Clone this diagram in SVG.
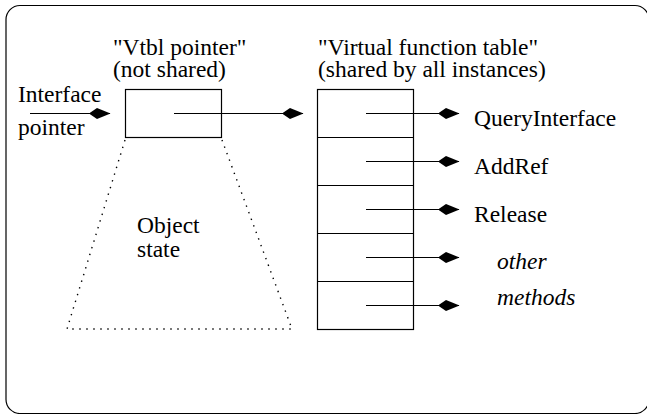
<svg xmlns="http://www.w3.org/2000/svg" width="647" height="414" viewBox="0 0 647 414">
<style>
  .t { font-family: "Times New Roman", "Liberation Serif", Times, "DejaVu Serif", serif; font-size: 23.5px; fill: #000; }
  .it { font-style: italic; }
  .box { fill: #fff; stroke: #000; stroke-width: 1.2; }
  .line { fill: none; stroke: #000; stroke-width: 1.2; }
  .dot { fill: none; stroke: #000; stroke-width: 1.4; stroke-dasharray: 1.4 5.6; }
  .arrow { fill: none; stroke: #000; stroke-width: 1.2; marker-end: url(#head); }
</style>
<defs>
  <marker id="head" markerUnits="userSpaceOnUse" viewBox="-22 -7 23 14" refX="0" refY="0" markerWidth="23" markerHeight="14" orient="auto">
    <path d="M0.5,0 L-13,-5.5 L-20,-0.8 L-20,0.8 L-13,5.5 Z" fill="#000"/>
  </marker>
</defs>
<rect width="647" height="414" fill="#fff"/>
<g id="frame">
  <rect x="6" y="5.5" width="643" height="408" rx="14" ry="14" class="line"/>
</g>
<g id="interface-pointer" class="t">
  <text x="18" y="102">Interface</text>
  <text x="18" y="135">pointer</text>
</g>
<g id="vtbl-pointer">
  <g class="t">
    <text x="113" y="55">"Vtbl pointer"</text>
    <text x="113" y="77">(not shared)</text>
  </g>
  <rect x="125.5" y="89.5" width="96" height="48" class="box"/>
</g>
<g id="object-state">
  <polyline points="125,140 67,329 292,329 222,140" class="dot"/>
  <g class="t">
    <text x="137" y="233">Object</text>
    <text x="137" y="257">state</text>
  </g>
</g>
<g id="vtable">
  <g class="t">
    <text x="318" y="55">"Virtual function table"</text>
    <text x="318" y="77">(shared by all instances)</text>
  </g>
  <rect x="317.5" y="89.5" width="96" height="240" class="box"/>
  <line x1="317.5" y1="137.5" x2="413.5" y2="137.5" class="line"/>
  <line x1="317.5" y1="185.5" x2="413.5" y2="185.5" class="line"/>
  <line x1="317.5" y1="233.5" x2="413.5" y2="233.5" class="line"/>
  <line x1="317.5" y1="281.5" x2="413.5" y2="281.5" class="line"/>
</g>
<g id="methods" class="t">
  <text x="474" y="126">QueryInterface</text>
  <text x="474" y="174">AddRef</text>
  <text x="474" y="222">Release</text>
  <text x="497" y="269" class="t it">other</text>
  <text x="497" y="305" class="t it">methods</text>
</g>
<g id="connectors">
  <line x1="30" y1="113.5" x2="110" y2="113.5" class="arrow"/>
  <line x1="174" y1="113.5" x2="303" y2="113.5" class="arrow"/>
  <line x1="366" y1="113.5" x2="459" y2="113.5" class="arrow"/>
  <line x1="366" y1="161.5" x2="459" y2="161.5" class="arrow"/>
  <line x1="366" y1="209.5" x2="459" y2="209.5" class="arrow"/>
  <line x1="366" y1="257.5" x2="459" y2="257.5" class="arrow"/>
  <line x1="366" y1="305.5" x2="459" y2="305.5" class="arrow"/>
</g>
</svg>
